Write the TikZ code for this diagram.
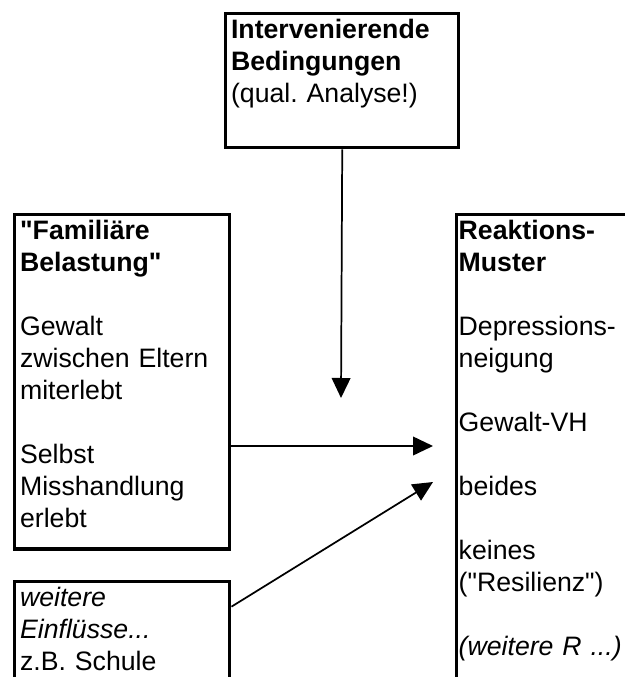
\documentclass[tikz,border=0pt]{standalone}
\usepackage{fontspec}
\setmainfont{Liberation Sans}[Ligatures=TeXOff]
\usetikzlibrary{arrows.meta}
\frenchspacing

\begin{document}
\begin{tikzpicture}[x=0.75pt,y=-0.75pt,
  kasten/.style={draw,line width=2.6pt,anchor=north west,align=left,
                 inner xsep=4pt,inner ysep=1.5pt,text height=16.8pt,
                 font=\fontsize{20}{24}\selectfont},
  pfeil/.style={-{Triangle[length=15pt,width=14pt]},line width=1.3pt}]

  \useasboundingbox (0,0) rectangle (624,677);

  \node[kasten,text width=166.75pt,text depth=80.7pt] (ib) at (224,12)
    {\textbf{Intervenierende}\\\textbf{Bedingungen}\\(qual. Analyse!)};
  \node[kasten,text width=153.25pt,text depth=230.95pt] (fb) at (13,213)
    {\textbf{"Familiäre}\\\textbf{Belastung"}\\[24pt]Gewalt\\zwischen Eltern\\miterlebt\\[24pt]Selbst\\Misshandlung\\erlebt};
  \node[kasten,text width=153.25pt,text depth=69.7pt] (we) at (13,580)
    {\textit{weitere}\\\textit{Einflüsse...}\\z.B. Schule};
  \node[kasten,inner xsep=1.5pt,text width=143.25pt,text depth=347.2pt] (rm) at (455,213)
    {\textbf{Reaktions-}\\\textbf{Muster}\\[24pt]Depressions-\\neigung\\[24pt]Gewalt-VH\\[24pt]beides\\[24pt]keines\\("Resilienz")\\[24pt]\textit{(weitere R ...)}};

  \coordinate (z1) at (341,398);
  \coordinate (z2) at (433,446);
  \coordinate (z3) at (433,482);

  \draw[pfeil] (ib.south) -- (z1);
  \draw[pfeil] (fb.east |- z2) -- (z2);
  \draw[pfeil] ([yshift=-20pt]we.north east) -- (z3);
\end{tikzpicture}
\end{document}
